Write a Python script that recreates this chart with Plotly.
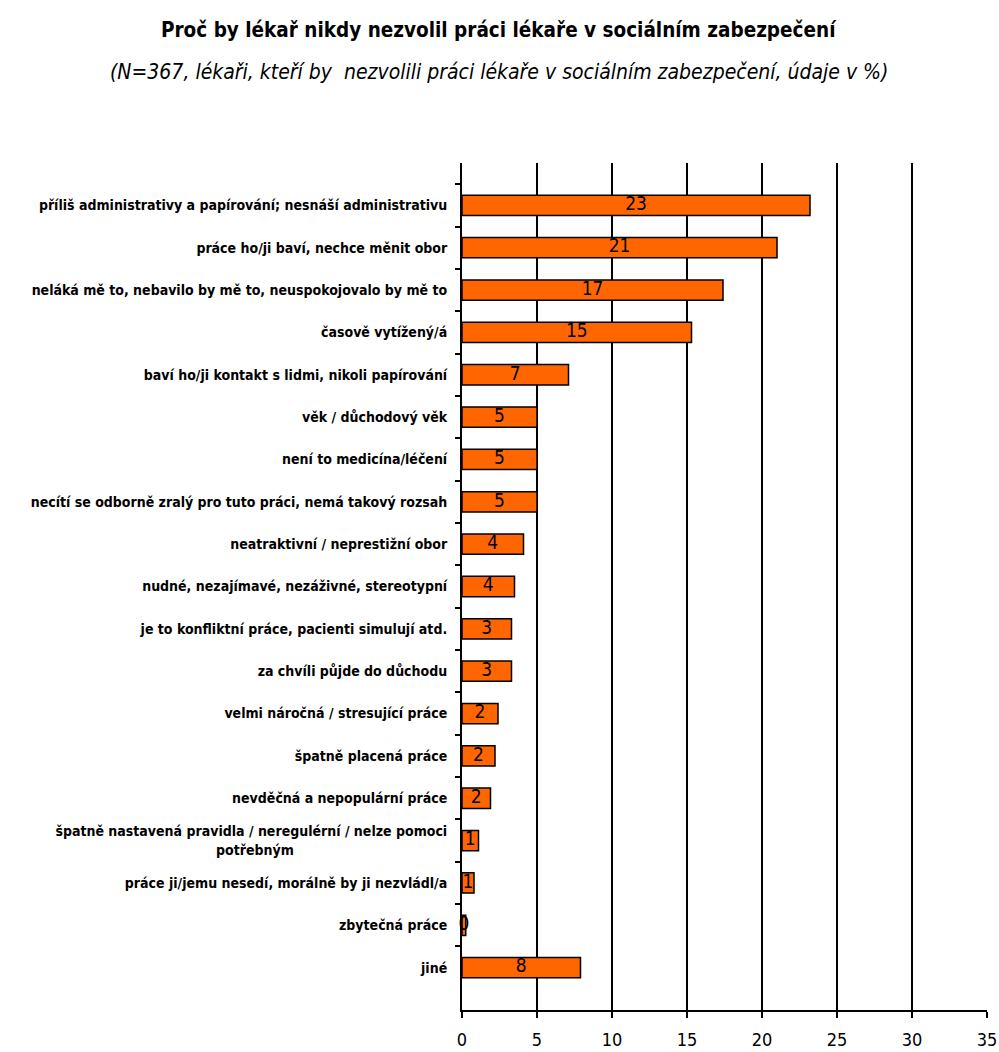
import plotly.graph_objects as go

categories = [
    "příliš administrativy a papírování; nesnáší administrativu",
    "práce ho/ji baví, nechce měnit obor",
    "neláká mě to, nebavilo by mě to, neuspokojovalo by mě to",
    "časově vytížený/á",
    "baví ho/ji kontakt s lidmi, nikoli papírování",
    "věk / důchodový věk",
    "není to medicína/léčení",
    "necítí se odborně zralý pro tuto práci, nemá takový rozsah",
    "neatraktivní / neprestižní obor",
    "nudné, nezajímavé, nezáživné, stereotypní",
    "je to konfliktní práce, pacienti simulují atd.",
    "za chvíli půjde do důchodu",
    "velmi náročná / stresující práce",
    "špatně placená práce",
    "nevděčná a nepopulární práce",
    "špatně nastavená pravidla / neregulérní / nelze pomoci<br>potřebným" + "\u00a0" * 35,
    "práce ji/jemu nesedí, morálně by ji nezvládl/a",
    "zbytečná práce",
    "jiné",
]
values = [23.2, 21.0, 17.4, 15.3, 7.1, 5.0, 5.0, 5.0, 4.1, 3.5, 3.3, 3.3,
          2.4, 2.2, 1.9, 1.1, 0.8, 0.25, 7.9]
x_ticks = [0, 5, 10, 15, 20, 25, 30, 35]

FONT = "DejaVu Sans Condensed, Liberation Sans Narrow, Arial Narrow, sans-serif"

W, H = 999, 1052
ML, MR, MT, MB = 462, 12, 163, 42
plot_w = W - ML - MR
plot_h = H - MT - MB


def px_to_paper_y(ypix):
    return (H - MB - ypix) / plot_h


def px_to_paper_x(xpix):
    return (xpix - ML) / plot_w


fig = go.Figure()
fig.add_trace(go.Bar(
    x=values, y=categories, orientation="h",
    marker=dict(color="#FF6600", line=dict(color="black", width=1.5)),
    width=0.48, hoverinfo="x+y",
))
fig.add_trace(go.Scatter(
    x=[v / 2 for v in values], y=categories, mode="text",
    text=[f"{v:.0f}" for v in values],
    textfont=dict(family=FONT, size=19, color="black"),
    textposition="middle center", hoverinfo="skip", cliponaxis=False,
))

fig.update_layout(
    width=W, height=H,
    margin=dict(l=ML, r=MR, t=MT, b=MB, autoexpand=False),
    paper_bgcolor="white", plot_bgcolor="white",
    showlegend=False,
    font=dict(family=FONT, color="black"),
    annotations=[
        dict(text="Proč by lékař nikdy nezvolil práci lékaře v sociálním zabezpečení",
             x=px_to_paper_x(499), y=px_to_paper_y(30), xref="paper", yref="paper",
             showarrow=False, xanchor="center", yanchor="middle",
             font=dict(size=20.5, family=FONT, weight="bold")),
        dict(text="(N=367, lékaři, kteří by  nezvolili práci lékaře v sociálním zabezpečení, údaje v %)",
             x=px_to_paper_x(499), y=px_to_paper_y(72), xref="paper", yref="paper",
             showarrow=False, xanchor="center", yanchor="middle",
             font=dict(size=21, family=FONT, style="italic")),
    ],
)

fig.update_xaxes(
    range=[0, 35], tickvals=x_ticks, ticktext=[str(t) for t in x_ticks],
    showgrid=True, gridcolor="black", gridwidth=1.5,
    showline=True, linecolor="black", linewidth=2,
    ticks="outside", ticklen=6, tickcolor="black", tickwidth=1.5,
    tickfont=dict(size=18, family=FONT), ticklabelstandoff=6,
    zeroline=False, fixedrange=True, automargin=False,
)
fig.update_yaxes(
    autorange="reversed", type="category",
    showline=True, linecolor="black", linewidth=2,
    ticks="outside", ticklen=5, tickcolor="black", tickwidth=2,
    tickson="boundaries", showgrid=False, automargin=False,
    tickfont=dict(size=14, family=FONT, weight="bold"), ticklabelstandoff=10,
)
fig.write_html(
    "out.html",
    config={"displayModeBar": False},
    post_script="document.body.style.margin='0';document.body.style.overflow='hidden';",
)
